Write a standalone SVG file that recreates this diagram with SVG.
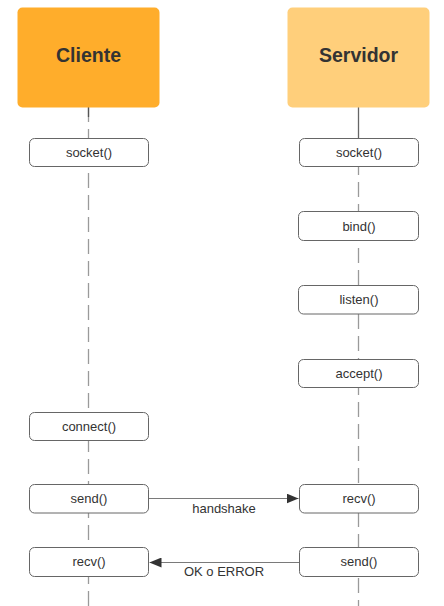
<svg xmlns="http://www.w3.org/2000/svg" width="444" height="606" viewBox="0 0 444 606">
<style>
.life{stroke:#9a9a9a;stroke-width:1.3;fill:none;stroke-dasharray:15 7}
.hdr text{font-family:"Liberation Sans",Arial,sans-serif;font-weight:bold;font-size:19.5px;fill:#333;text-anchor:middle}
.box rect{fill:#fff;stroke:#666;stroke-width:1}
.box text,.lbl{font-family:"Liberation Sans",Arial,sans-serif;font-size:13px;fill:#333;text-anchor:middle}
.msg{stroke:#7a7a7a;stroke-width:1.2;fill:none}
</style>
<defs>
<marker id="ah" viewBox="0 0 12 10" refX="12" refY="5" markerWidth="12" markerHeight="10" markerUnits="userSpaceOnUse" orient="auto">
<path d="M0,0 L12,5 L0,10 Z" fill="#333"/>
</marker>
</defs>
<g id="lifelines">
<line class="life" x1="88.5" y1="107" x2="88.5" y2="606"/>
<line x1="88.5" y1="107" x2="88.5" y2="117" stroke="#555" stroke-width="1.3"/>
<line x1="358.5" y1="107" x2="358.5" y2="138" stroke="#666" stroke-width="1.3"/>
<line class="life" x1="358.5" y1="138" x2="358.5" y2="606"/>
</g>
<g id="cliente" class="hdr">
<rect x="17.5" y="7.5" width="142" height="100" rx="5" fill="#FFAD2B"/>
<text x="88.5" y="62">Cliente</text>
</g>
<g id="servidor" class="hdr">
<rect x="287.5" y="7.5" width="142" height="100" rx="5" fill="#FFCF7B"/>
<text x="358.5" y="62">Servidor</text>
</g>
<g id="c-socket" class="box"><rect x="29.5" y="138.5" width="119" height="28" rx="5"/><text x="89" y="157">socket()</text></g>
<g id="c-connect" class="box"><rect x="29.5" y="412.5" width="119" height="28" rx="5"/><text x="89" y="431">connect()</text></g>
<g id="c-send" class="box"><rect x="29.5" y="484.5" width="119" height="28.5" rx="5"/><text x="89" y="503">send()</text></g>
<g id="c-recv" class="box"><rect x="29.5" y="547.5" width="119" height="29" rx="5"/><text x="89" y="566">recv()</text></g>
<g id="s-socket" class="box"><rect x="299.5" y="138.5" width="119" height="28" rx="5"/><text x="359" y="157">socket()</text></g>
<g id="s-bind" class="box"><rect x="298.5" y="211.5" width="120" height="29" rx="5"/><text x="359" y="230.5">bind()</text></g>
<g id="s-listen" class="box"><rect x="298.5" y="285.5" width="120" height="28.5" rx="5"/><text x="359" y="304">listen()</text></g>
<g id="s-accept" class="box"><rect x="298.5" y="359.5" width="120" height="28" rx="5"/><text x="359" y="378">accept()</text></g>
<g id="s-recv" class="box"><rect x="299.5" y="484.5" width="119" height="28.5" rx="5"/><text x="359" y="503">recv()</text></g>
<g id="s-send" class="box"><rect x="299.5" y="547.5" width="119" height="29" rx="5"/><text x="359" y="566">send()</text></g>
<g id="connectors">
<line class="msg" x1="149" y1="498.5" x2="298.5" y2="498.5" marker-end="url(#ah)"/>
<text class="lbl" x="224" y="513">handshake</text>
<line class="msg" x1="299" y1="562.5" x2="149.5" y2="562.5" marker-end="url(#ah)"/>
<text class="lbl" x="224" y="576">OK o ERROR</text>
</g>
</svg>
